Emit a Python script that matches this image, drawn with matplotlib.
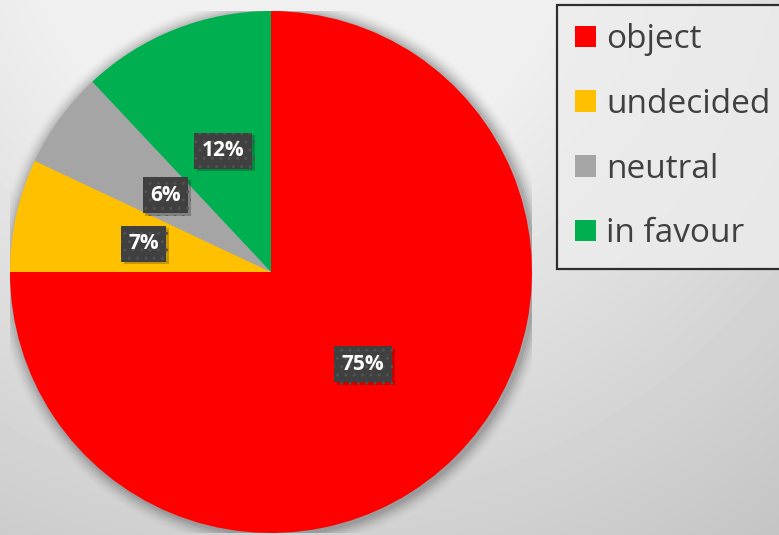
import matplotlib

matplotlib.use("Agg")
import matplotlib.pyplot as plt
import matplotlib.patheffects as pe
import numpy as np
from matplotlib.patches import Patch, Circle

plt.rcParams["font.family"] = ["Open Sans", "DejaVu Sans"]
plt.rcParams["hatch.color"] = "#555555"
plt.rcParams["hatch.linewidth"] = 1.0

# data
labels = ["object", "undecided", "neutral", "in favour"]
shares = [75, 7, 6, 12]
colors = ["#ff0000", "#ffc000", "#a5a5a5", "#00b050"]

W, H = 779, 535
fig = plt.figure(figsize=(W / 100, H / 100), dpi=100)

# background: soft radial grey gradient
bg = fig.add_axes([0, 0, 1, 1], zorder=-10)
yy, xx = np.mgrid[0:H, 0:W]
d = np.hypot(xx - 300, yy + 100)
v = np.clip(236 - 0.0835 * (d - 316), 180, 240) / 255.0
bg.imshow(v, cmap="gray", vmin=0, vmax=1, aspect="auto", interpolation="bilinear")
bg.axis("off")

# pie
cx, cy, r = 271, 272, 261
ax = fig.add_axes([(cx - r) / W, (H - cy - r) / H, 2 * r / W, 2 * r / H])

# soft shadow behind the pie
for i, a in enumerate(np.linspace(0.07, 0.01, 7)):
    ax.add_patch(Circle((0.008, -0.006), 1.0 + 0.008 * (i + 1), color="black",
                        alpha=a, lw=0, zorder=0))

wedges, texts, autotexts = ax.pie(
    shares, colors=colors, startangle=90, counterclock=False, radius=1,
    autopct="%1.0f%%", pctdistance=0.5,
    wedgeprops=dict(linewidth=0, zorder=1),
    textprops=dict(color="white", fontsize=15, fontweight="bold"))
ax.set_xlim(-1, 1)
ax.set_ylim(-1, 1)
ax.set_aspect("auto")
ax.axis("off")

for t in autotexts:
    t.set_zorder(5)
    t.set_bbox(dict(boxstyle="square,pad=0.36", facecolor="#404040",
                    edgecolor="#525252", linewidth=0, hatch=".."))
    t.get_bbox_patch().set_path_effects([
        pe.withSimplePatchShadow(offset=(2, -2), shadow_rgbFace="black", alpha=0.22),
        pe.Normal()])

# legend
handles = [Patch(facecolor=c, edgecolor="none") for c in colors]
leg = fig.legend(handles, labels, loc="upper left",
                 bbox_to_anchor=(557 / W, 1 - 5 / H),
                 fontsize=24, frameon=True, fancybox=False,
                 handlelength=0.62, handleheight=0.62, handletextpad=0.3,
                 labelspacing=0.95, borderpad=0.55, borderaxespad=0)
frame = leg.get_frame()
frame.set_edgecolor("black")
frame.set_linewidth(1.6)
frame.set_facecolor((0.93, 0.93, 0.93, 0.35))
for txt in leg.get_texts():
    txt.set_color("#404040")

fig.savefig("out.png", dpi=100)
